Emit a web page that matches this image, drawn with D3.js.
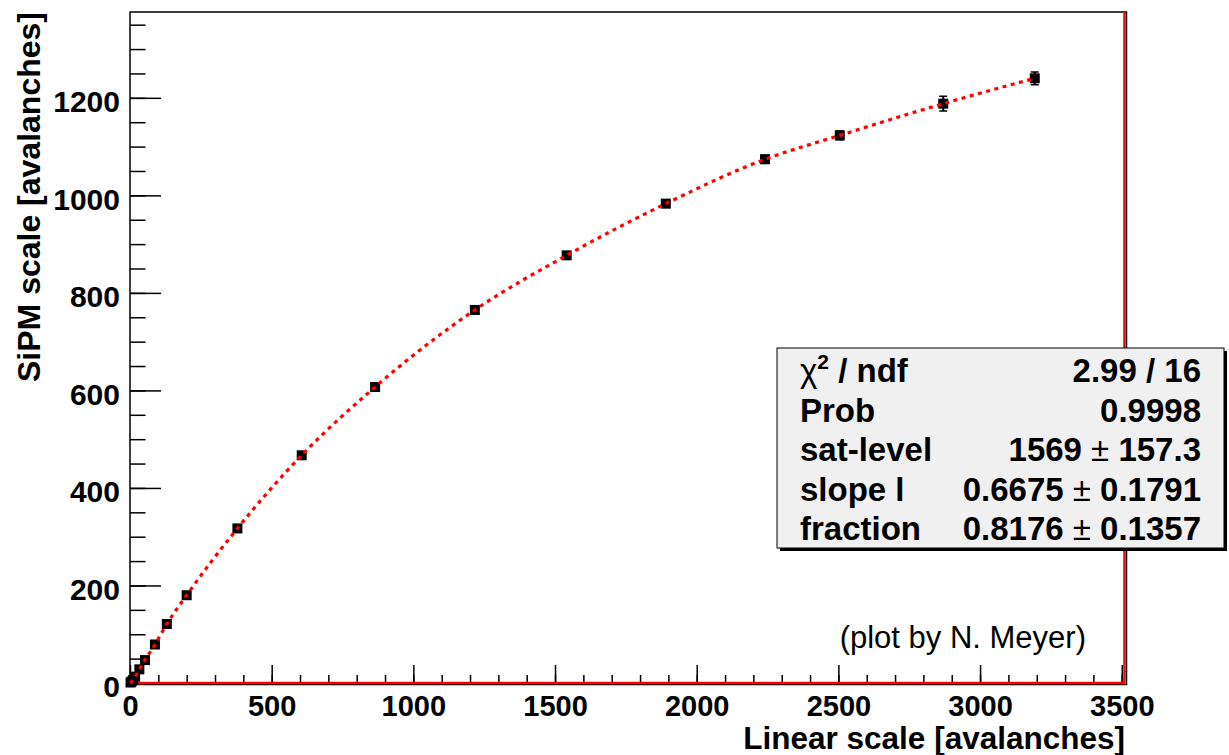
<!DOCTYPE html>
<html>
<head>
<meta charset="utf-8">
<script src="https://cdn.jsdelivr.net/npm/d3@7"></script>
<style>
  body { margin: 0; background: #fff; }
  svg text { font-family: "Liberation Sans", Arial, Helvetica, sans-serif; }
</style>
</head>
<body>
<div class="chart"></div>
<script>
// measured points: linear scale vs SiPM scale (avalanches)
let linear  = [2, 6, 11, 18, 33, 53, 88, 130, 200, 379, 606, 865, 1217, 1541, 1891, 2241, 2505, 2870, 3193];
let sipm    = [1, 3, 6, 13, 28, 47, 79, 121, 180, 317, 467, 607, 765, 877, 983, 1074, 1123, 1188, 1240];
let sipmErr = [1, 1, 1, 2, 2, 3, 3, 4, 4, 5, 5, 5, 6, 6, 7, 8, 9, 15, 13];
let linErr  = [1, 1, 2, 2, 3, 4, 5, 6, 8, 10, 10, 10, 12, 12, 14, 14, 14, 15, 15];

let xTicks = [0, 500, 1000, 1500, 2000, 2500, 3000, 3500];
let yTicks = [0, 200, 400, 600, 800, 1000, 1200];

let statNames  = ["ndf", "Prob", "sat-level", "slope l", "fraction"];
let statValues = ["2.99 / 16", "0.9998", "1569", "0.6675", "0.8176"];
let statErrors = [null, null, "157.3", "0.1791", "0.1357"];

let data = linear.map((d, i) => ({x: d, y: sipm[i], ex: linErr[i], ey: sipmErr[i]}));

let W = 1229, H = 755;
let margin = {top: 12, right: 103, bottom: 72, left: 130};
let width = W - margin.left - margin.right;
let height = H - margin.top - margin.bottom;

let svg = d3.select('.chart')
  .append('svg')
    .attr('width', W)
    .attr('height', H);

svg.append('rect').attr('width', W).attr('height', H).style('fill', '#fff');

let g = svg.append('g')
  .attr('transform', `translate(${margin.left}, ${margin.top})`);

let xScale = d3.scaleLinear().domain([0, 3515]).range([0, width]);
let yScale = d3.scaleLinear().domain([0, 1376]).range([height, 0]);

// frame
g.append('rect')
  .attr('width', width + 0.5)
  .attr('height', height + 1.5)
  .style('fill', 'none')
  .style('stroke', '#000')
  .style('stroke-width', 1.5);

// minor ticks first
g.append('g')
  .attr('transform', `translate(0, ${height})`)
  .call(d3.axisBottom(xScale).tickValues(d3.range(0, 3501, 100)).tickSize(-8).tickFormat(''))
  .call(s => s.select('.domain').remove());

g.append('g')
  .call(d3.axisLeft(yScale).tickValues(d3.range(0, 1351, 50)).tickSize(-15.5).tickFormat(''))
  .call(s => s.select('.domain').remove());

// major ticks + labels
let xAxis = g.append('g')
  .attr('transform', `translate(0, ${height})`)
  .call(d3.axisBottom(xScale).tickValues(xTicks).tickSize(-18).tickPadding(12).tickFormat(d3.format('d')));
xAxis.select('.domain').remove();
xAxis.selectAll('text')
  .style('font-size', '29px').style('font-weight', 'bold').style('fill', '#000');

let yAxis = g.append('g')
  .call(d3.axisLeft(yScale).tickValues(yTicks).tickSize(-31).tickPadding(10).tickFormat(d3.format('d')));
yAxis.select('.domain').remove();
yAxis.selectAll('text')
  .attr('dy', '0.46em')
  .style('font-size', '30px').style('font-weight', 'bold').style('fill', '#000');

g.selectAll('.tick line').style('stroke', '#000').style('stroke-width', 1.5);

// red edges
g.append('line')
  .attr('x1', 0).attr('x2', width - 1).attr('y1', height).attr('y2', height)
  .style('stroke', '#ff0000').style('stroke-width', 2.5);
g.append('line')
  .attr('x1', width - 1.5).attr('x2', width - 1.5).attr('y1', 0).attr('y2', height)
  .style('stroke', '#ff0000').style('stroke-width', 2.5);

// error bars
let pts = g.append('g');
pts.selectAll('.ey')
  .data(data).enter().append('line')
    .attr('x1', d => xScale(d.x)).attr('x2', d => xScale(d.x))
    .attr('y1', d => yScale(d.y - d.ey)).attr('y2', d => yScale(d.y + d.ey))
    .style('stroke', '#000').style('stroke-width', 2);
pts.selectAll('.ex')
  .data(data).enter().append('line')
    .attr('x1', d => xScale(d.x - d.ex)).attr('x2', d => xScale(d.x + d.ex))
    .attr('y1', d => yScale(d.y)).attr('y2', d => yScale(d.y))
    .style('stroke', '#000').style('stroke-width', 2);
pts.selectAll('.cap')
  .data(data.filter(d => d.ey > 6)).enter().append('path')
    .attr('d', d => `M${xScale(d.x) - 4},${yScale(d.y - d.ey)}h8M${xScale(d.x) - 4},${yScale(d.y + d.ey)}h8`)
    .style('stroke', '#000').style('stroke-width', 1.5);
pts.selectAll('rect')
  .data(data).enter().append('rect')
    .attr('x', d => xScale(d.x) - 5)
    .attr('y', d => yScale(d.y) - 5)
    .attr('width', 10).attr('height', 10)
    .style('fill', '#000');

// fit curve (dotted red)
let line = d3.line()
  .x(d => xScale(d.x))
  .y(d => yScale(d.y))
  .curve(d3.curveMonotoneX);
g.append('path')
  .datum([{x: 0, y: 0}].concat(data))
  .attr('d', line)
  .style('fill', 'none')
  .style('stroke', '#ff0000')
  .style('stroke-width', 3.2)
  .style('stroke-dasharray', '4 4.5');

// axis titles
svg.append('text')
  .attr('x', 1125).attr('y', 749)
  .attr('text-anchor', 'end')
  .style('font-size', '31.5px').style('font-weight', 'bold')
  .text('Linear scale [avalanches]');

svg.append('text')
  .attr('transform', 'translate(40, 12) rotate(-90)')
  .attr('text-anchor', 'end')
  .style('font-size', '32px').style('font-weight', 'bold')
  .text('SiPM scale [avalanches]');

svg.append('text')
  .attr('x', 1086).attr('y', 648)
  .attr('text-anchor', 'end')
  .style('font-size', '31px')
  .text('(plot by N. Meyer)');

// stats box
let box = svg.append('g').attr('transform', 'translate(777, 348)');
box.append('rect').attr('x', 3).attr('y', 3).attr('width', 447).attr('height', 200).style('fill', '#000');
box.append('rect').attr('width', 447).attr('height', 200)
  .style('fill', '#f0f0f0').style('stroke', '#000').style('stroke-width', 1);

statNames.forEach((name, i) => {
  let yb = 34 + i * 39.6;
  let t = box.append('text').attr('x', 23).attr('y', yb)
    .style('font-size', '33px').style('font-weight', 'bold');
  if (i === 0) {
    t.append('tspan').style('font-weight', 'normal').text('χ');
    t.append('tspan').attr('dy', -13).style('font-size', '21px').text('2');
    t.append('tspan').attr('dy', 13).text(' / ' + name);
  } else {
    t.text(name);
  }
  let v = box.append('text').attr('x', 424).attr('y', yb)
    .attr('text-anchor', 'end')
    .style('font-size', '33px').style('font-weight', 'bold');
  v.append('tspan').text(statValues[i]);
  if (statErrors[i]) {
    v.append('tspan').style('font-weight', 'normal').text(' ± ');
    v.append('tspan').text(statErrors[i]);
  }
});
</script>
</body>
</html>
